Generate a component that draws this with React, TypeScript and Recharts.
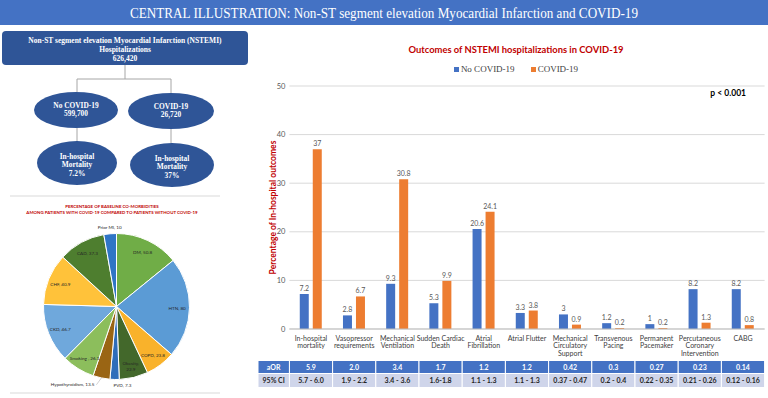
import React from 'react';
import {
  BarChart, Bar, XAxis, YAxis, CartesianGrid, LabelList, Legend, PieChart, Pie, Cell,
} from 'recharts';

// bar chart: outcomes
const outcomeLabels = [
  ['In-hospital', 'mortality'],
  ['Vasopressor', 'requirements'],
  ['Mechanical', 'Ventilation'],
  ['Sudden Cardiac', 'Death'],
  ['Atrial', 'Fibrillation'],
  ['Atrial Flutter'],
  ['Mechanical', 'Circulatory', 'Support'],
  ['Transvenous', 'Pacing'],
  ['Permanent', 'Pacemaker'],
  ['Percutaneous', 'Coronary', 'Intervention'],
  ['CABG'],
];
const noCovid = [7.2, 2.8, 9.3, 5.3, 20.6, 3.3, 3, 1.2, 1, 8.2, 8.2];
const covid = [37, 6.7, 30.8, 9.9, 24.1, 3.8, 0.9, 0.2, 0.2, 1.3, 0.8];
const aor = ['5.9', '2.0', '3.4', '1.7', '1.2', '1.2', '0.42', '0.3', '0.27', '0.23', '0.14'];
const ci = ['5.7 - 6.0', '1.9 - 2.2', '3.4 - 3.6', '1.6-1.8', '1.1 - 1.3', '1.1 - 1.3',
  '0.37 - 0.47', '0.2 - 0.4', '0.22 - 0.35', '0.21 - 0.26', '0.12 - 0.16'];
const yTicks = [0, 10, 20, 30, 40, 50];
const seriesNames = ['No COVID-19', 'COVID-19'];

// pie chart: co-morbidities
const comorbidities = ['DM', 'HTN', 'COPD', 'Obesity', 'PVD', 'Hypothyroidism', 'Smoking ', 'CKD', 'CHF', 'CAD', 'Prior MI'];
const comorbidityValues = [50.8, 80, 23.8, 22.9, 7.3, 13.5, 26.1, 46.7, 40.9, 37.3, 10];

const PIE_COLORS = ['#70AD47', '#5B9BD5', '#F9B22B', '#43682B', '#2E6DBA', '#9A6514',
  '#8CBE5C', '#6FA8DC', '#FFC23A', '#4E7E2F', '#2F75C5'];
const BLUE = '#4472C4';
const ORANGE = '#ED7D31';
const DARK = '#2F5597';
const RED = '#C00000';
const SANS = 'Lato, "Open Sans", sans-serif';
const SERIF = '"Liberation Serif", "DejaVu Serif", serif';

const barData = outcomeLabels.map((lines, i) => ({
  name: lines.join(' '),
  lines,
  noCovid: noCovid[i],
  covid: covid[i],
  aor: aor[i],
  ci: ci[i],
}));

const pieData = comorbidities.map((name, i) => ({ name, value: comorbidityValues[i] }));

const BAND = 475.2 / 11;
const RADIAN = Math.PI / 180;

const OutcomeTick = (props: any) => {
  const { x, y, index } = props;
  const row = barData[index];
  const half = BAND / 2;
  return (
    <g>
      <text x={x} y={y + 11.5} textAnchor="middle" fontSize={7} fill="#404040" fontFamily={SANS}>
        {row.lines.map((l: string, k: number) => (
          <tspan key={k} x={x} dy={k === 0 ? 0 : 7.8}>{l}</tspan>
        ))}
      </text>
      <rect x={x - half} y={y + 31.5} width={BAND} height={13} fill={BLUE} stroke="#fff" strokeWidth={1} />
      <text x={x} y={y + 40.5} textAnchor="middle" fontSize={7} fontWeight="bold" fill="#fff" fontFamily={SANS}>{row.aor}</text>
      <rect x={x - half} y={y + 44.5} width={BAND} height={14} fill="#CFD5EA" stroke="#fff" strokeWidth={1} />
      <text x={x} y={y + 54} textAnchor="middle" fontSize={7} fontWeight="bold" fill="#262626" fontFamily={SANS}>{row.ci}</text>
    </g>
  );
};

const YTitle = (props: any) => {
  const vb = props.viewBox || {};
  const cx = (vb.x || 0) + 18;
  const cy = (vb.y || 0) + (vb.height || 0) / 2;
  return (
    <text x={cx} y={cy} transform={`rotate(-90 ${cx} ${cy})`} textAnchor="middle" dominantBaseline="central"
      fontSize={8.5} fontWeight="bold" fill={RED} fontFamily={SANS}>
      Percentage of In-hospital outcomes
    </text>
  );
};

const renderLegend = (props: any) => {
  const items = [...(props.payload || [])].sort(
    (a: any, b: any) => seriesNames.indexOf(a.value) - seriesNames.indexOf(b.value),
  );
  return (
    <div style={{ display: 'flex', justifyContent: 'center', gap: 16, paddingLeft: 9, font: `9px ${SERIF}`, color: '#404040' }}>
      {items.map((p: any) => (
        <span key={p.value} style={{ display: 'flex', alignItems: 'center' }}>
          <span style={{ display: 'inline-block', width: 5, height: 5, background: p.color, marginRight: 2 }} />
          {p.value}
        </span>
      ))}
    </div>
  );
};

const renderPieLabel = (props: any) => {
  const { cx, cy, midAngle, outerRadius, index, name, value } = props;
  const cos = Math.cos(-midAngle * RADIAN);
  const sin = Math.sin(-midAngle * RADIAN);
  const outside = value < 15;
  if (outside) {
    const r = outerRadius + 5;
    const x = cx + r * cos;
    const y = cy + r * sin;
    const dx = x - cx;
    const far = Math.abs(dx) > 15;
    if (far) {
      const ex = x - 6;
      return (
        <g>
          <line x1={cx + outerRadius * cos} y1={cy + outerRadius * sin} x2={ex + 2} y2={y + 2} stroke="#A6A6A6" strokeWidth={0.5} />
          <text x={ex} y={y + 3.5} textAnchor="end" fontSize={4.6} fill="#262626" fontFamily={SANS}>{`${name}, ${value}`}</text>
        </g>
      );
    }
    return (
      <text x={x + (sin > 0 ? 8 : 0)} y={y + (sin > 0 ? 3 : 0)} textAnchor="middle" fontSize={4.6} fill="#262626" fontFamily={SANS}>
        {`${name}, ${value}`}
      </text>
    );
  }
  const r = outerRadius * 0.83;
  const x = cx + r * cos;
  const y = cy + r * sin;
  if (name === 'Obesity') {
    return (
      <text x={x} y={y} textAnchor="middle" fontSize={4.6} fill="#262626" fontFamily={SANS}>
        <tspan x={x} dy={0}>{`${name},`}</tspan>
        <tspan x={x} dy={5.5}>{value}</tspan>
      </text>
    );
  }
  return (
    <text key={index} x={x} y={y} textAnchor="middle" dominantBaseline="central" fontSize={4.6} fill="#262626" fontFamily={SANS}>
      {`${name}, ${value}`}
    </text>
  );
};

const ellipseText = { fill: '#fff', fontFamily: SERIF, fontWeight: 'bold' as const, fontSize: 7.4, textAnchor: 'middle' as const };

export default function App() {
  return (
    <div style={{ position: 'absolute', left: 0, top: 0, width: 768, height: 398, background: '#fff', overflow: 'hidden' }}>
      <div style={{ position: 'absolute', left: 0, top: 195 }}>
        <PieChart width={260} height={203}>
          <Pie
            data={pieData}
            dataKey="value"
            nameKey="name"
            cx={111.5}
            cy={106.5}
            outerRadius={73}
            startAngle={90}
            endAngle={-270}
            stroke="#fff"
            strokeWidth={1}
            labelLine={false}
            label={renderPieLabel}
            isAnimationActive={false}
          >
            {pieData.map((entry, index) => <Cell key={`cell-${index}`} fill={PIE_COLORS[index % PIE_COLORS.length]} />)}
          </Pie>
        </PieChart>
      </div>

      <div style={{ position: 'absolute', left: 255, top: 30 }}>
        <BarChart width={513} height={368} data={barData} margin={{ top: 56, right: 3.4, left: 0, bottom: 0 }}
          barCategoryGap="24%" barGap={4}>
          <CartesianGrid vertical={false} stroke="#D9D9D9" />
          <XAxis dataKey="name" interval={0} height={69} tickSize={0} tickMargin={0}
            axisLine={{ stroke: '#BFBFBF' }} tick={(p: any) => <OutcomeTick {...p} />} />
          <YAxis width={34.4} domain={[0, 50]} ticks={yTicks} axisLine={false} tickLine={false}
            tickSize={0} tickMargin={4} tick={{ fontSize: 7.5, fill: '#595959', fontFamily: SANS }}
            label={{ content: (p: any) => <YTitle {...p} /> }} />
          <Legend verticalAlign="middle" align="center" layout="horizontal"
            wrapperStyle={{ top: 34, left: 0, width: 513 }} content={renderLegend} />
          <Bar dataKey="noCovid" name={seriesNames[0]} fill={BLUE} isAnimationActive={false}>
            <LabelList dataKey="noCovid" position="top" offset={3} fontSize={7} fill="#595959" fontFamily={SANS} />
          </Bar>
          <Bar dataKey="covid" name={seriesNames[1]} fill={ORANGE} isAnimationActive={false}>
            <LabelList dataKey="covid" position="top" offset={3} fontSize={7} fill="#595959" fontFamily={SANS} />
          </Bar>
        </BarChart>
      </div>

      <svg width={768} height={398} style={{ position: 'absolute', left: 0, top: 0, pointerEvents: 'none' }}>
        {/* banner */}
        <rect x={0} y={0} width={768} height={25} fill={BLUE} />
        <text x={384} y={17.5} textAnchor="middle" fontSize={15} fill="#fff" fontFamily={SERIF}
          textLength={508} lengthAdjust="spacingAndGlyphs">
          CENTRAL ILLUSTRATION: Non-ST segment elevation Myocardial Infarction and COVID-19
        </text>

        {/* flowchart */}
        <rect x={2} y={31} width={246} height={34} rx={4} fill={DARK} />
        <text x={125} y={43} {...ellipseText} fontSize={7.5}>Non-ST segment elevation Myocardial Infarction (NSTEMI)</text>
        <text x={125} y={51.8} {...ellipseText} fontSize={7.5}>Hospitalizations</text>
        <text x={125} y={60.8} {...ellipseText} fontSize={7.5}>626,420</text>
        <g stroke="#A6A6A6" strokeWidth={1} fill="none">
          <line x1={125} y1={65} x2={125} y2={79} />
          <line x1={77} y1={79} x2={171} y2={79} />
          <line x1={77} y1={79} x2={77} y2={92} />
          <line x1={171} y1={79} x2={171} y2={93} />
          <line x1={77} y1={128} x2={77} y2={141} />
          <line x1={171} y1={128} x2={171} y2={143} />
        </g>
        <ellipse cx={76} cy={110} rx={42} ry={18} fill={DARK} />
        <text x={76} y={107.5} {...ellipseText}>No COVID-19</text>
        <text x={76} y={116.3} {...ellipseText}>599,700</text>
        <ellipse cx={171} cy={111} rx={43} ry={18} fill={DARK} />
        <text x={171} y={108.5} {...ellipseText}>COVID-19</text>
        <text x={171} y={117.3} {...ellipseText}>26,720</text>
        <ellipse cx={77} cy={163} rx={40} ry={22} fill={DARK} />
        <text x={77} y={158.5} {...ellipseText}>In-hospital</text>
        <text x={77} y={167.3} {...ellipseText}>Mortality</text>
        <text x={77} y={176.1} {...ellipseText}>7.2%</text>
        <ellipse cx={172} cy={165} rx={42} ry={22} fill={DARK} />
        <text x={172} y={160.5} {...ellipseText}>In-hospital</text>
        <text x={172} y={169.3} {...ellipseText}>Mortality</text>
        <text x={172} y={178.1} {...ellipseText}>37%</text>

        {/* separators */}
        <line x1={10} y1={196} x2={220} y2={196} stroke="#D9D9D9" />
        <line x1={10} y1={393} x2={220} y2={393} stroke="#D9D9D9" />

        {/* pie title */}
        <text x={112} y={207.5} textAnchor="middle" fontSize={4.4} fontWeight="bold" fill={RED} fontFamily={SANS}>
          PERCENTAGE OF BASELINE CO-MORBIDITIES
        </text>
        <text x={112} y={213.5} textAnchor="middle" fontSize={4.4} fontWeight="bold" fill={RED} fontFamily={SANS}>
          AMONG PATIENTS WITH COVID-19 COMPARED TO PATIENTS WITHOUT COVID-19
        </text>

        {/* bar chart title and note */}
        <text x={516} y={52.5} textAnchor="middle" fontSize={9.4} fontWeight="bold" fill={RED} fontFamily={SANS}>
          Outcomes of NSTEMI hospitalizations in COVID-19
        </text>
        <text x={746} y={96} textAnchor="end" fontSize={8.5} fontWeight="bold" fill="#000" fontFamily={SANS}>p &lt; 0.001</text>

        {/* table row headers */}
        <rect x={258} y={360.5} width={31.4} height={13} fill={BLUE} stroke="#fff" />
        <text x={273.7} y={369.5} textAnchor="middle" fontSize={7} fontWeight="bold" fill="#fff" fontFamily={SANS}>aOR</text>
        <rect x={258} y={373.5} width={31.4} height={14} fill="#CFD5EA" stroke="#fff" />
        <text x={273.7} y={383} textAnchor="middle" fontSize={7} fontWeight="bold" fill="#262626" fontFamily={SANS}>95% CI</text>
      </svg>
    </div>
  );
}
